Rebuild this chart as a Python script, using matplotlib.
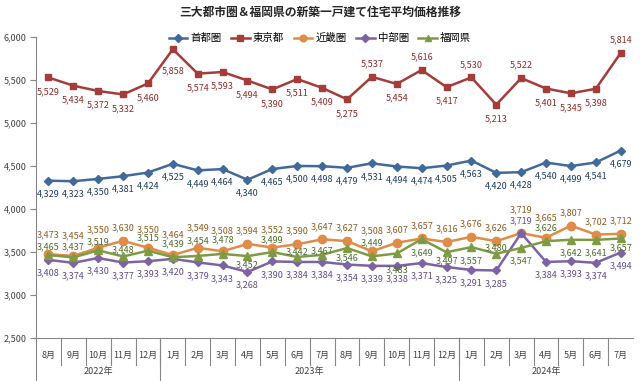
import matplotlib
matplotlib.use('Agg')
import matplotlib.pyplot as plt
from matplotlib.ticker import FuncFormatter

plt.rcParams['font.family'] = ['Noto Sans CJK JP', 'DejaVu Sans']

# ---------- DATA ----------
months = ['8月', '9月', '10月', '11月', '12月',
          '1月', '2月', '3月', '4月', '5月', '6月', '7月', '8月', '9月', '10月', '11月', '12月',
          '1月', '2月', '3月', '4月', '5月', '6月', '7月']
years = ['2022年', '2023年', '2024年']
year_counts = [5, 12, 7]

shutoken = [4329, 4323, 4350, 4381, 4424, 4525, 4449, 4464, 4340, 4465, 4500, 4498,
            4479, 4531, 4494, 4474, 4505, 4563, 4420, 4428, 4540, 4499, 4541, 4679]
tokyo = [5529, 5434, 5372, 5332, 5460, 5858, 5574, 5593, 5494, 5390, 5511, 5409,
         5275, 5537, 5454, 5616, 5417, 5530, 5213, 5522, 5401, 5345, 5398, 5814]
kinki = [3473, 3454, 3550, 3630, 3550, 3464, 3549, 3508, 3594, 3552, 3590, 3647,
         3627, 3508, 3607, 3657, 3616, 3676, 3626, 3719, 3665, 3807, 3702, 3712]
chubu = [3408, 3374, 3430, 3377, 3393, 3420, 3379, 3343, 3268, 3390, 3384, 3384,
         3354, 3339, 3338, 3371, 3325, 3291, 3285, 3719, 3384, 3393, 3374, 3494]
fukuoka = [3465, 3437, 3519, 3448, 3515, 3439, 3454, 3478, 3452, 3499, 3442, 3467,
           3546, 3449, 3483, 3649, 3497, 3557, 3480, 3547, 3626, 3642, 3641, 3657]

# ---------- LABEL PLACEMENT (pixels, + above / - below) ----------
off_shutoken = [-13] * 24
off_tokyo = [-14] * 24
for i in (13, 15, 17, 19, 23):
    off_tokyo[i] = 13
off_tokyo[5] = -22
off_kinki = [13] * 24
for i in (1, 5, 6, 7, 13, 20):
    off_kinki[i] = 20
for i in (2, 4, 9):
    off_kinki[i] = 18
off_kinki[0] = 19
off_kinki[19] = 23
off_chubu = [-13] * 24
off_chubu[19] = 12
off_fukuoka = [8, 11, 9, 7, 13, 13, 15, 14, -9, 12, 5, 4,
               -10, 14, -16, -14, -9, -14, 6, -13, 13, -13, -13, -9]

series = [
    ('首都圏', shutoken, '#41699C', '#1F3A60', 'D', 4.5, off_shutoken),
    ('東京都', tokyo, '#A43C3A', '#8E2A28', 's', 5.0, off_tokyo),
    ('近畿圏', kinki, '#DE8C47', '#8C5A22', 'o', 6.0, off_kinki),
    ('中部圏', chubu, '#7D63A3', '#5E4A8E', 'D', 4.5, off_chubu),
    ('福岡県', fukuoka, '#7E9B44', '#4E6B2A', '^', 6.0, off_fukuoka),
]

fig = plt.figure(figsize=(6.4, 3.81), dpi=100)
ax = fig.add_axes([0.05625, 0.1129, 0.933, 0.790])

x = list(range(len(months)))
for name, vals, col, lcol, mk, ms, offs in series:
    ax.plot(x, vals, color=col, lw=1.8, marker=mk, markersize=ms,
            markerfacecolor=col, markeredgecolor=col, label=name)
    for xi, v, o in zip(x, vals, offs):
        ax.annotate(f'{v:,}', (xi, v), xytext=(0, o * 0.72), textcoords='offset points',
                    ha='center', va='center', fontsize=6.5, color=lcol)

ax.set_xlim(-0.5, len(months) - 0.5)
ax.set_ylim(2500, 6000)
ax.set_yticks(range(2500, 6001, 500))
ax.yaxis.set_major_formatter(FuncFormatter(lambda v, p: f'{int(v):,}'))
ax.tick_params(axis='y', labelsize=6.5, colors='#868686', labelcolor='#404040',
               length=4, width=0.8, pad=3)
ax.set_xticks([])
for s in ('top', 'right'):
    ax.spines[s].set_visible(False)
for s in ('left', 'bottom'):
    ax.spines[s].set_color('#868686')
    ax.spines[s].set_linewidth(0.8)

# multi-level category axis
axh = 0.790 * 381
tr = ax.get_xaxis_transform()
for i, m in enumerate(months):
    ax.text(i, -17 / axh, m, transform=tr, ha='center', va='center',
            fontsize=6.5, color='#404040')
for k in range(1, len(months)):
    ax.plot([k - 0.5, k - 0.5], [0, -27 / axh], transform=tr, color='#868686',
            lw=0.8, clip_on=False)
start = 0
bounds = [-0.5]
for yname, cnt in zip(years, year_counts):
    ax.text(start + (cnt - 1) / 2, -34 / axh, yname, transform=tr, ha='center',
            va='center', fontsize=6.5, color='#404040')
    start += cnt
    bounds.append(start - 0.5)
for b in bounds[:-1]:
    ax.plot([b, b], [0, -43 / axh], transform=tr, color='#868686', lw=0.8, clip_on=False)

fig.text(0.5, 0.968, '三大都市圏＆福岡県の新築一戸建て住宅平均価格推移', ha='center', va='center',
         fontsize=8.5, fontweight='bold', color='#262626')
fig.legend(loc='center', bbox_to_anchor=(0.5, 0.90), ncol=5, frameon=False,
           fontsize=7.5, handlelength=1.8, columnspacing=0.9, handletextpad=0.3,
           markerscale=0.8)

fig.savefig('out.png', dpi=100, facecolor='white')
